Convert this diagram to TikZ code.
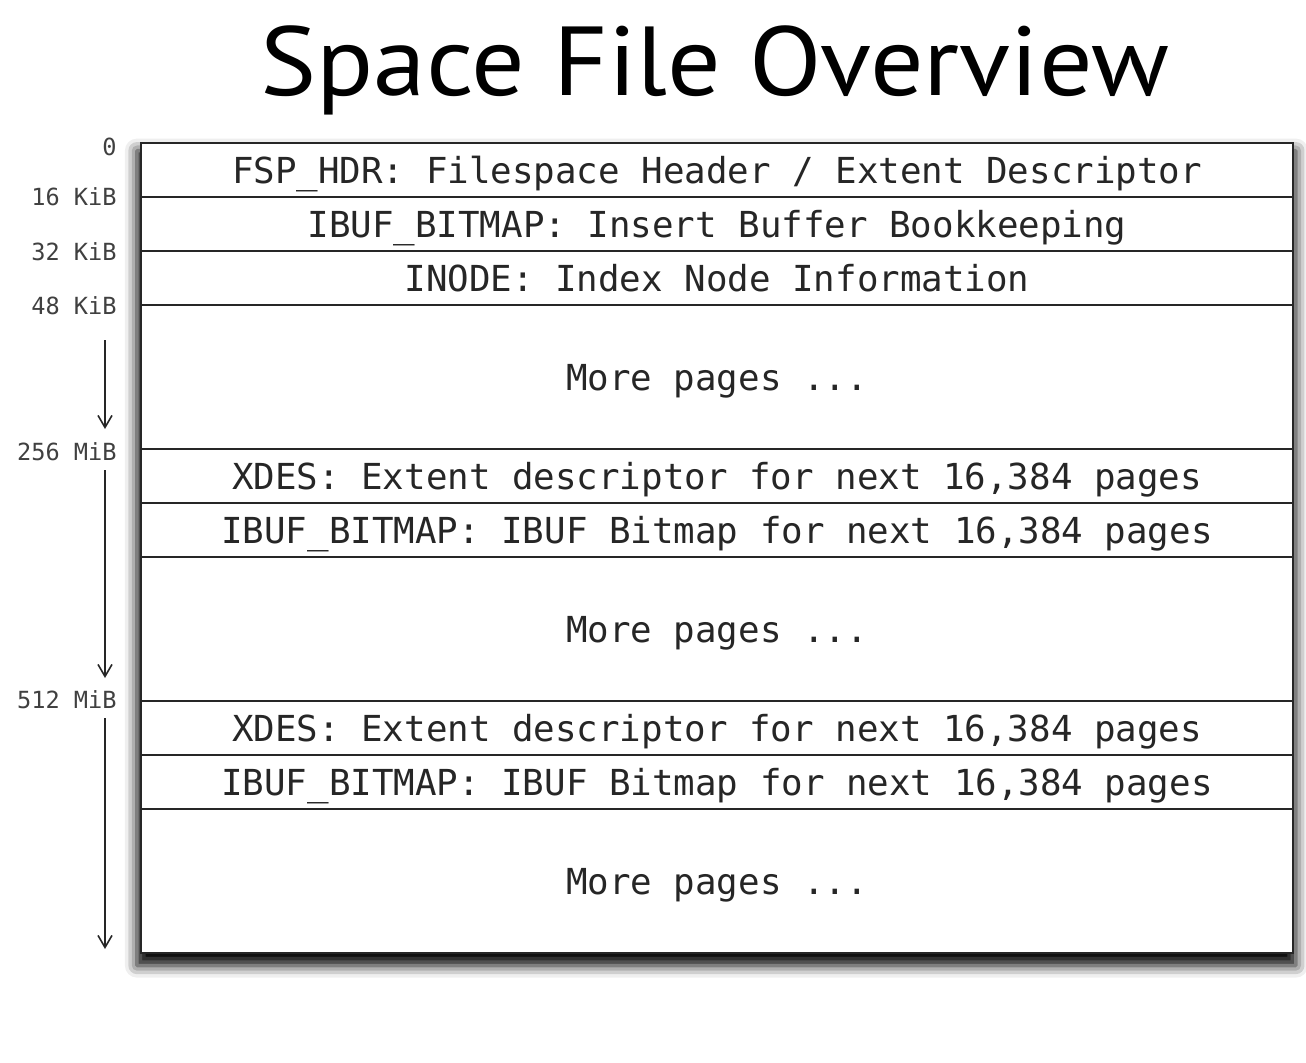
\documentclass[tikz,border=0pt]{standalone}
\usepackage{fontspec}
\setmonofont{DejaVu Sans Mono}
\newfontfamily\titlefont[FakeStretch=1.08]{PT Sans}
\usetikzlibrary{shadows.blur,arrows.meta}
\begin{document}
\begin{tikzpicture}[x=0.5pt,y=-0.5pt,
  rowbox/.style={draw=black!85,line width=1pt,minimum width=576pt,inner sep=0pt,
    text height=13pt,text depth=0pt,
    font=\ttfamily\fontsize{17.9}{20}\selectfont,text=black!85},
  thinrow/.style={rowbox,minimum height=27pt},
  tallrow/.style={rowbox,minimum height=72pt},
  offlabel/.style={anchor=east,inner sep=0pt,font=\ttfamily\fontsize{11.8}{13}\selectfont,text=black!75},
  sizearrow/.style={draw=black!85,line width=0.8pt,-{Straight Barb[length=6pt,width=7pt]}}]
\useasboundingbox (0,0) rectangle (1306,1062);
\node[font=\titlefont\fontsize{49}{60}\selectfont,inner sep=0pt] (title) at (715,70) {Space File Overview};
\node[draw=black!90,line width=1pt,fill=white,minimum width=576pt,minimum height=405pt,inner sep=0pt,
  blur shadow={shadow xshift=-0.3pt,shadow yshift=-5pt,shadow scale=1.006,shadow blur radius=6pt,shadow opacity=100}] (frame) at (717,548) {};
\node[thinrow] (r1) at (717,170) {FSP\_HDR: Filespace Header / Extent Descriptor};
\node[thinrow] (r2) at (717,224) {IBUF\_BITMAP: Insert Buffer Bookkeeping};
\node[thinrow] (r3) at (717,278) {INODE: Index Node Information};
\node[tallrow] (r4) at (717,377) {More pages ...};
\node[thinrow] (r5) at (717,476) {XDES: Extent descriptor for next 16,384 pages};
\node[thinrow] (r6) at (717,530) {IBUF\_BITMAP: IBUF Bitmap for next 16,384 pages};
\node[tallrow] (r7) at (717,629) {More pages ...};
\node[thinrow] (r8) at (717,728) {XDES: Extent descriptor for next 16,384 pages};
\node[thinrow] (r9) at (717,782) {IBUF\_BITMAP: IBUF Bitmap for next 16,384 pages};
\node[tallrow] (r10) at (717,881) {More pages ...};
\node[offlabel] (l0) at (117,147) {0};
\node[offlabel] (l16) at (117,197) {16 KiB};
\node[offlabel] (l32) at (117,252) {32 KiB};
\node[offlabel] (l48) at (117,306) {48 KiB};
\node[offlabel] (l256) at (117,452) {256 MiB};
\node[offlabel] (l512) at (117,700) {512 MiB};
\coordinate (a1s) at (105,340);
\coordinate (a1e) at (105,429);
\coordinate (a2s) at (105,470);
\coordinate (a2e) at (105,678);
\coordinate (a3s) at (105,718);
\coordinate (a3e) at (105,949);
\draw[sizearrow] (a1s) -- (a1e);
\draw[sizearrow] (a2s) -- (a2e);
\draw[sizearrow] (a3s) -- (a3e);
\end{tikzpicture}
\end{document}
